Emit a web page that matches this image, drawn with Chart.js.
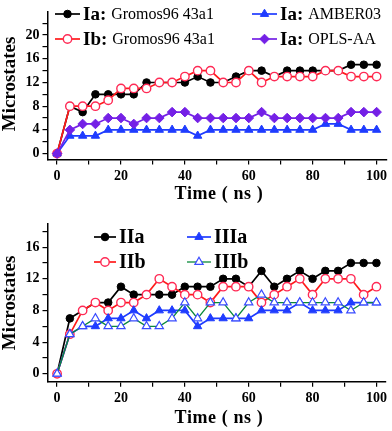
<!DOCTYPE html>
<html><head><meta charset="utf-8">
<script src="https://cdn.jsdelivr.net/npm/chart.js@4/dist/chart.umd.min.js"></script>
<style>
html,body{margin:0;padding:0;background:#fff;}
#wrap{position:relative;width:392px;height:431px;overflow:hidden;}
.c{position:absolute;left:0;}
</style></head><body>
<div id="wrap">
<div class="c" style="top:0;width:392px;height:212px"><canvas id="top" width="392" height="212"></canvas></div>
<div class="c" style="top:212px;width:392px;height:219px"><canvas id="bot" width="392" height="219"></canvas></div>
</div>
<script>
// ---- data ----
const times = [0,4,8,12,16,20,24,28,32,36,40,44,48,52,56,60,64,68,72,76,80,84,88,92,96,100];
const xTicks = [0,10,20,30,40,50,60,70,80,90,100];
const topYTicks = [0,2,4,6,8,10,12,14,16,18,20,22];
const botYTicks = [0,2,4,6,8,10,12,14,16,18];

const Ia_G96   = [0,8,7,10,10,10,10,12,12,12,12,13,12,12,13,14,14,13,14,14,14,14,14,15,15,15];
const Ib_G96   = [0,8,8,8,9,11,11,11,12,12,13,14,14,12,12,14,12,13,13,13,13,14,14,13,13,13];
const Ia_AMBER = [0,3,3,3,4,4,4,4,4,4,4,3,4,4,4,4,4,4,4,4,4,5,5,4,4,4];
const Ia_OPLS  = [0,4,5,5,6,6,5,6,6,7,7,6,6,6,6,6,7,6,6,6,6,6,6,7,7,7];

const IIa  = [0,7,8,9,9,11,10,10,10,10,11,11,11,12,12,11,13,11,12,13,12,13,13,14,14,14];
const IIb  = [0,5,8,9,8,9,9,10,12,11,10,10,9,11,11,11,9,10,11,12,10,12,12,12,10,11];
const IIIa = [0,5,6,6,7,7,8,7,8,8,8,6,7,7,7,7,8,8,8,9,8,8,8,9,9,9];
const IIIb = [0,5,6,7,6,6,7,6,6,7,9,7,9,9,7,9,10,9,9,9,9,9,9,8,9,9];

// ---- styles ----
const SERIF = '"Liberation Serif","Times New Roman",serif';
const STY = {
  black:{borderColor:'#000',borderWidth:1.7,pointStyle:'circle',pointRadius:3.8,pointBackgroundColor:'#000',pointBorderColor:'#000',pointBorderWidth:1},
  red:{borderColor:'#ff1a1a',borderWidth:1.7,pointStyle:'circle',pointRadius:4.2,pointBackgroundColor:'#fff',pointBorderColor:'#ff2a55',pointBorderWidth:1.4},
  blue:{borderColor:'#1f3cff',borderWidth:1.7,pointStyle:'triangle',pointRadius:4.8,pointBackgroundColor:'#1f3cff',pointBorderColor:'#1f3cff',pointBorderWidth:1},
  purple:{borderColor:'#7420e6',borderWidth:1.7,pointStyle:'rectRot',pointRadius:4.8,pointBackgroundColor:'#7420e6',pointBorderColor:'#7420e6',pointBorderWidth:1},
  green:{borderColor:'#0a8a3a',borderWidth:1.3,pointStyle:'triangle',pointRadius:4.8,pointBackgroundColor:'#fff',pointBorderColor:'#3a4cff',pointBorderWidth:1.2}
};
function series(label, vals, style, order){
  return Object.assign({label, order, data: times.map((t,i)=>({x:t,y:vals[i]})), fill:false, tension:0, pointHoverRadius:0}, style);
}

function legendPlugin(items){
  return {id:'customLegend', afterDraw(chart){
    const ctx = chart.ctx;
    items.forEach(it=>{
      const ds = chart.data.datasets[it.ds];
      ctx.save();
      ctx.strokeStyle = ds.borderColor; ctx.lineWidth = ds.borderWidth;
      ctx.beginPath(); ctx.moveTo(it.x0,it.y); ctx.lineTo(it.x1,it.y); ctx.stroke();
      ctx.fillStyle = ds.pointBackgroundColor; ctx.strokeStyle = ds.pointBorderColor; ctx.lineWidth = ds.pointBorderWidth;
      Chart.helpers.drawPoint(ctx,{pointStyle:ds.pointStyle,radius:ds.pointRadius,borderWidth:ds.pointBorderWidth,rotation:0},(it.x0+it.x1)/2,it.y);
      ctx.fillStyle = '#000'; ctx.textBaseline = 'middle'; ctx.textAlign = 'left';
      ctx.font = 'bold '+it.bs+'px '+SERIF;
      ctx.fillText(it.bold, it.x1+3, it.y+1);
      if(it.rest){
        const w = ctx.measureText(it.bold).width;
        ctx.font = it.rs+'px '+SERIF;
        ctx.fillText(it.rest, it.x1+3+w+5, it.y+1);
      }
      ctx.restore();
    });
  }};
}
function titlePlugin(yCenter, xTitleY){
  return {id:'axisTitles', afterDraw(chart){
    const ctx = chart.ctx;
    ctx.save();
    ctx.fillStyle = '#000'; ctx.textAlign='center'; ctx.textBaseline='middle';
    ctx.font = 'bold 19px '+SERIF;
    ctx.translate(10, yCenter); ctx.rotate(-Math.PI/2);
    ctx.fillText('Microstates',0,0);
    ctx.restore();
    ctx.save();
    ctx.fillStyle = '#000'; ctx.textAlign='center'; ctx.textBaseline='middle';
    ctx.font = 'bold 18px '+SERIF;
    if('letterSpacing' in ctx) ctx.letterSpacing = '0.6px';
    ctx.fillText('Time ( ns )', 219, xTitleY);
    ctx.restore();
  }};
}

function makeChart(id, datasets, cfg){
  const tickFont = {family:SERIF, size:14, weight:'bold'};
  return new Chart(document.getElementById(id), {
    type:'line',
    data:{datasets},
    options:{
      responsive:false, animation:false, devicePixelRatio:1,
      layout:{padding:{left:0,right:2,top:cfg.padTop,bottom:0}},
      plugins:{legend:{display:false}, tooltip:{enabled:false}},
      events:[],
      scales:{
        x:{type:'linear', min:-3, max:103,
          afterBuildTicks:s=>{s.ticks = xTicks.map(v=>({value:v}));},
          afterFit:s=>{s.height = cfg.xAxisH;},
          ticks:{font:tickFont, color:'#000', padding:3, maxRotation:0, autoSkip:false,
            callback:v=> (v%20===0 ? String(v) : '')},
          grid:{drawOnChartArea:false, drawTicks:true, tickLength:5, color:'#000', lineWidth:1.2},
          border:{display:true, color:'#000', width:1.5}
        },
        y:{type:'linear', min:-1, max:cfg.yMax,
          afterBuildTicks:s=>{s.ticks = cfg.yTicks.map(v=>({value:v}));},
          afterFit:s=>{s.width = 47.5;},
          ticks:{font:tickFont, color:'#000', padding:3, autoSkip:false,
            callback:v=> (v%4===0 && v<=cfg.yLabelMax ? String(v) : '')},
          grid:{drawOnChartArea:false, drawTicks:true, tickLength:5, color:'#000', lineWidth:1.2},
          border:{display:true, color:'#000', width:1.5}
        }
      }
    },
    plugins:[legendPlugin(cfg.legend), titlePlugin(cfg.yTitleC, cfg.xTitleY)]
  });
}

makeChart('top', [
  series('Ia: Gromos96 43a1', Ia_G96, STY.black, 3),
  series('Ib: Gromos96 43a1', Ib_G96, STY.red, 2),
  series('Ia: AMBER03', Ia_AMBER, STY.blue, 1),
  series('Ia: OPLS-AA', Ia_OPLS, STY.purple, 0)
], {padTop:1, xAxisH:52.5, yMax:24, yTicks:topYTicks, yLabelMax:20, yTitleC:84, xTitleY:194,
  legend:[
    {ds:0,x0:55,x1:80,y:14,bold:'Ia:',rest:'Gromos96 43a1',bs:19,rs:16},
    {ds:1,x0:55,x1:80,y:39,bold:'Ib:',rest:'Gromos96 43a1',bs:19,rs:16},
    {ds:2,x0:252,x1:277,y:14,bold:'Ia:',rest:'AMBER03',bs:19,rs:16},
    {ds:3,x0:252,x1:277,y:39,bold:'Ia:',rest:'OPLS-AA',bs:19,rs:16}
  ]});

makeChart('bot', [
  series('IIa', IIa, STY.black, 3),
  series('IIb', IIb, STY.red, 2),
  series('IIIa', IIIa, STY.blue, 1),
  series('IIIb', IIIb, STY.green, 0)
], {padTop:11, xAxisH:49.3, yMax:19, yTicks:botYTicks, yLabelMax:16, yTitleC:91, xTitleY:206,
  legend:[
    {ds:0,x0:94,x1:116,y:25,bold:'IIa',bs:20},
    {ds:1,x0:94,x1:116,y:50,bold:'IIb',bs:20},
    {ds:2,x0:187,x1:211,y:25,bold:'IIIa',bs:20},
    {ds:3,x0:187,x1:211,y:50,bold:'IIIb',bs:20}
  ]});
</script>
</body></html>
